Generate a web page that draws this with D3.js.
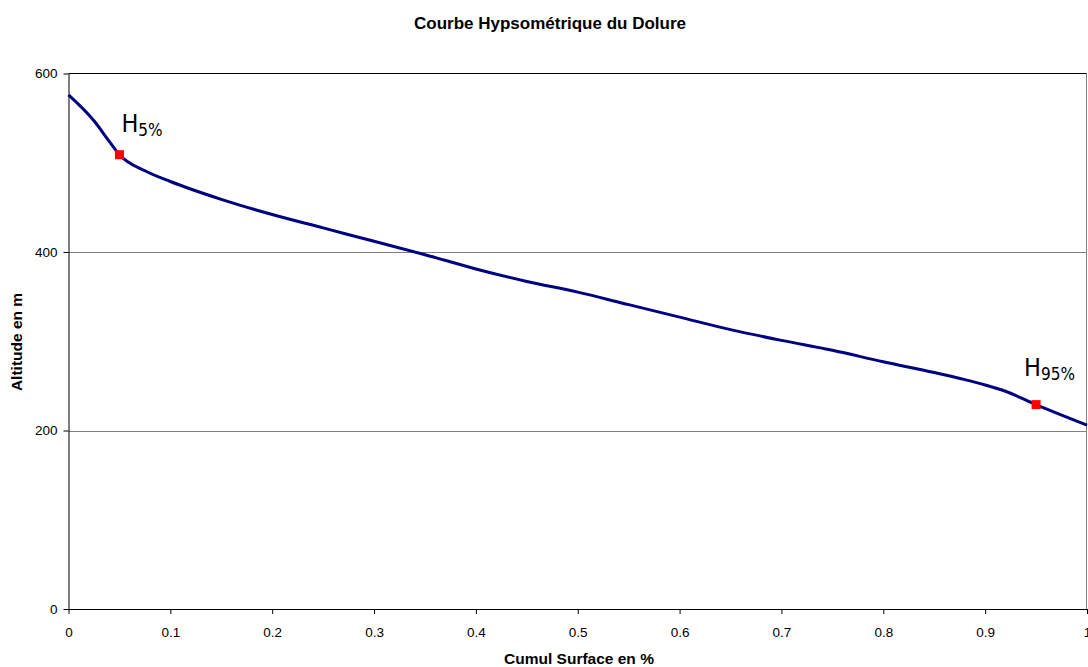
<!DOCTYPE html>
<html lang="fr">
<head>
<meta charset="utf-8">
<title>Courbe Hypsométrique du Dolure</title>
<script src="https://cdn.jsdelivr.net/npm/d3@7"></script>
<style>
  body { margin: 0; background: #fff; font-family: Arial, 'Liberation Sans', sans-serif; }
</style>
</head>
<body>
<div id="chart"></div>
<script>

// Data
var surface = [0, 0.025, 0.04, 0.05, 0.075, 0.1, 0.15, 0.2, 0.25, 0.3, 0.35, 0.4, 0.45, 0.5,
               0.55, 0.6, 0.65, 0.7, 0.75, 0.8, 0.85, 0.88, 0.9, 0.92, 0.95, 1];
var altitude = [576, 547, 524, 509, 491, 479, 459, 442, 427, 412, 397, 381, 367, 355,
                341, 327, 313, 301, 290, 277, 265, 257, 251, 244, 229, 206];
var markers = [{x: 0.05, y: 509, label: '5%'}, {x: 0.95, y: 229, label: '95%'}];
var xTicks = [0, 0.1, 0.2, 0.3, 0.4, 0.5, 0.6, 0.7, 0.8, 0.9, 1];
var yTicks = [0, 200, 400, 600];

var width = 1088, height = 667,
    plotLeft = 68.5, plotRight = 1087, plotTop = 73.5, plotBottom = 609;

var svg = d3.select('#chart').append('svg')
    .attr('width', width)
    .attr('height', height);

var x = d3.scaleLinear().domain([0, 1]).range([plotLeft, plotRight]);
var y = d3.scaleLinear().domain([0, 600]).range([plotBottom, plotTop]);

// Grid lines
svg.selectAll('line.grid')
  .data([200, 400])
  .enter().append('line')
    .attr('x1', plotLeft).attr('x2', plotRight)
    .attr('y1', function(d) { return Math.round(y(d)) + 0.5; })
    .attr('y2', function(d) { return Math.round(y(d)) + 0.5; })
    .attr('stroke', '#808080');

// top and right borders
svg.append('line')
    .attr('x1', plotLeft).attr('x2', plotRight)
    .attr('y1', plotTop).attr('y2', plotTop)
    .attr('stroke', '#000');
svg.append('line')
    .attr('x1', plotRight - 0.5).attr('x2', plotRight - 0.5)
    .attr('y1', plotTop).attr('y2', plotBottom)
    .attr('stroke', '#808080');

// Axes
var xAxis = svg.append('g')
    .attr('transform', 'translate(0,' + plotBottom + ')')
    .call(d3.axisBottom(x).tickValues(xTicks).tickFormat(d3.format('')).tickSize(5).tickSizeOuter(0));
var yAxis = svg.append('g')
    .attr('transform', 'translate(' + plotLeft + ',0)')
    .call(d3.axisLeft(y).tickValues(yTicks).tickSize(5).tickSizeOuter(0));

[xAxis, yAxis].forEach(function(g) {
  g.select('.domain').attr('stroke', '#000');
  g.selectAll('.tick line').attr('stroke', '#000');
  g.selectAll('.tick text')
    .attr('font-family', 'Arial, Liberation Sans, sans-serif')
    .attr('font-size', 13.5)
    .attr('fill', '#000');
});
xAxis.selectAll('.tick text').attr('y', 28).attr('dy', 0);
yAxis.selectAll('.tick text').attr('x', -11);

// Curve
var line = d3.line()
    .x(function(d, i) { return x(surface[i]); })
    .y(function(d) { return y(d); })
    .curve(d3.curveMonotoneX);

svg.append('path')
    .datum(altitude)
    .attr('d', line)
    .attr('fill', 'none')
    .attr('stroke', '#000080')
    .attr('stroke-width', 3);

// Markers
svg.selectAll('rect.marker')
  .data(markers)
  .enter().append('rect')
    .attr('x', function(d) { return x(d.x) - 4.5; })
    .attr('y', function(d) { return y(d.y) - 4.5; })
    .attr('width', 9).attr('height', 9)
    .attr('fill', '#ff0000');

var lab = svg.selectAll('text.hlabel')
  .data(markers)
  .enter().append('text')
    .attr('x', function(d) { return x(d.x) + (d.x < 0.5 ? 2 : -12); })
    .attr('y', function(d) { return y(d.y) - (d.x < 0.5 ? 23 : 29); })
    .attr('font-family', 'Liberation Sans Narrow, DejaVu Sans Condensed, sans-serif')
    .attr('font-size', 25)
    .attr('fill', '#000');
lab.append('tspan').text('H');
lab.append('tspan')
    .attr('font-size', 17)
    .attr('dy', 4)
    .text(function(d) { return d.label; });

// Titles
svg.append('text')
    .attr('x', 550).attr('y', 29)
    .attr('text-anchor', 'middle')
    .attr('font-weight', 'bold')
    .attr('font-size', 17)
    .text('Courbe Hypsométrique du Dolure');

svg.append('text')
    .attr('x', 579).attr('y', 664)
    .attr('text-anchor', 'middle')
    .attr('font-weight', 'bold')
    .attr('font-size', 15.5)
    .text('Cumul Surface en %');

svg.append('text')
    .attr('transform', 'translate(22,342) rotate(-90)')
    .attr('text-anchor', 'middle')
    .attr('font-weight', 'bold')
    .attr('font-size', 15.5)
    .text('Altitude en m');

</script>
</body>
</html>
